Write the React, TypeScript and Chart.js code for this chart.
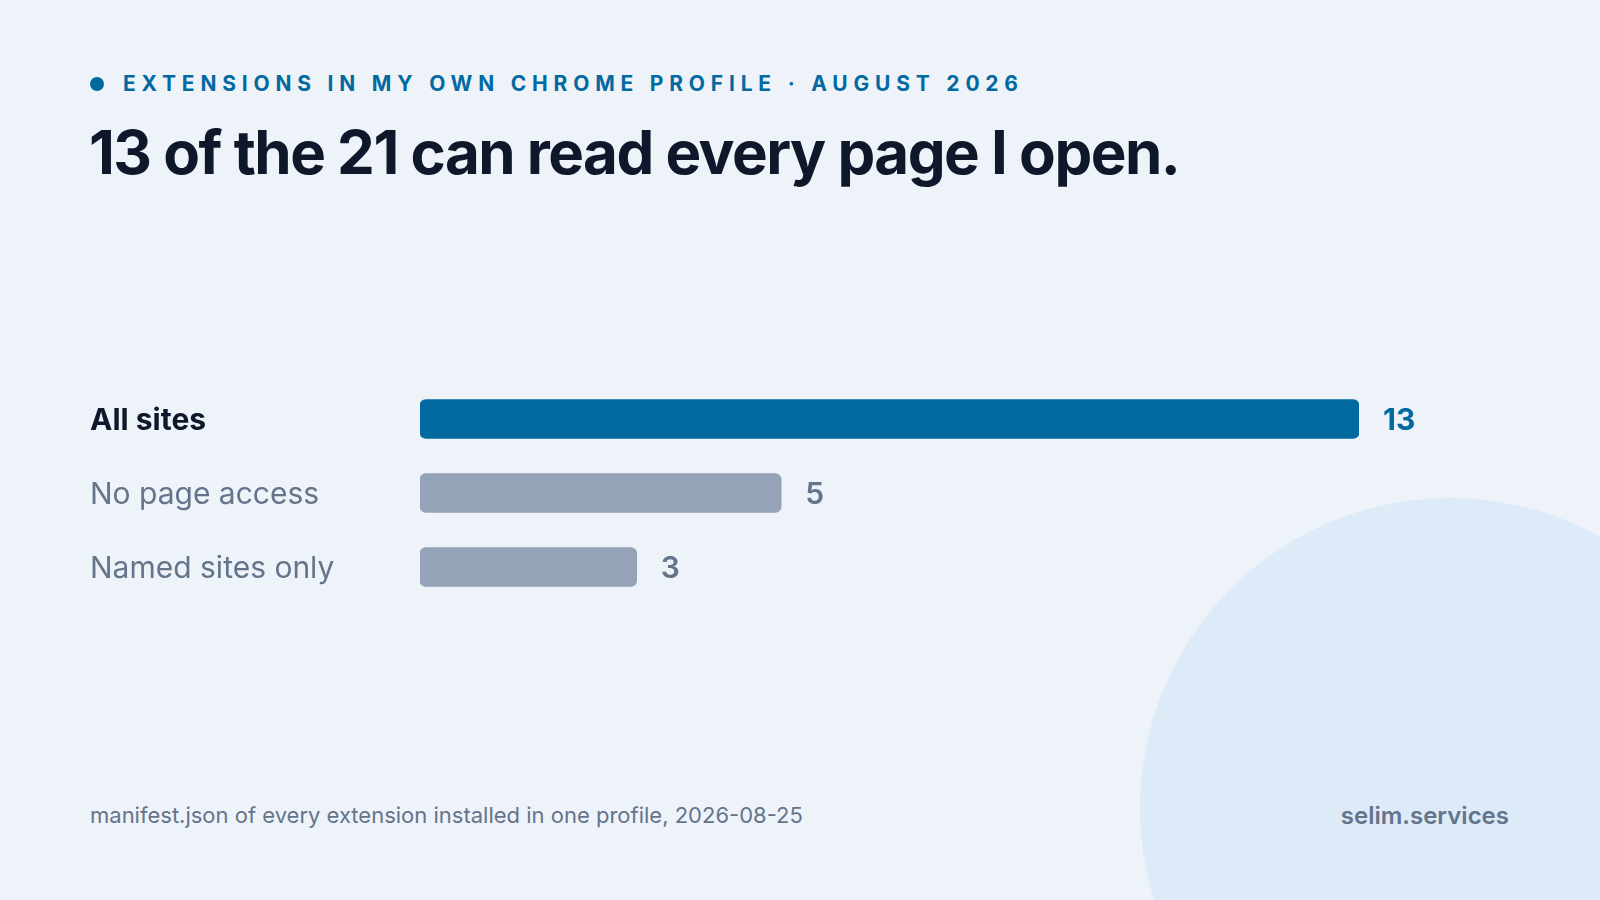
import { useEffect, useRef } from 'react'
import { Chart, registerables } from 'chart.js'

Chart.register(...registerables)

const categories = ['All sites', 'No page access', 'Named sites only']
const extensionCounts = [13, 5, 3]
const highlightIndex = 0

const BLUE = '#0369a1'
const SLATE = '#94a3b8'
const MUTED = '#64748b'
const INK = '#0f172a'

// draws the count just past the end of every bar
const valueLabels = {
  id: 'valueLabels',
  afterDatasetsDraw(chart: Chart) {
    const { ctx } = chart
    const meta = chart.getDatasetMeta(0)
    ctx.save()
    ctx.textBaseline = 'middle'
    ctx.textAlign = 'left'
    meta.data.forEach((bar: any, i: number) => {
      const hot = i === highlightIndex
      ctx.font = `${hot ? 700 : 600} 30px Inter`
      ctx.fillStyle = hot ? BLUE : MUTED
      ctx.fillText(String(extensionCounts[i]), bar.x + 24, bar.y + 2)
    })
    ctx.restore()
  }
}

function PermissionBars() {
  const canvasRef = useRef<HTMLCanvasElement>(null)
  const chartRef = useRef<Chart | null>(null)

  useEffect(() => {
    if (!canvasRef.current) return
    if (chartRef.current) chartRef.current.destroy()

    chartRef.current = new Chart(canvasRef.current, {
      type: 'bar',
      data: {
        labels: categories,
        datasets: [
          {
            data: extensionCounts,
            backgroundColor: categories.map((_, i) => (i === highlightIndex ? BLUE : SLATE)),
            borderRadius: 6,
            borderSkipped: false,
            barThickness: 39
          }
        ]
      },
      options: {
        indexAxis: 'y',
        animation: false,
        responsive: true,
        maintainAspectRatio: false,
        layout: { padding: { left: 0, right: 101, top: 0, bottom: 0 } },
        plugins: {
          legend: { display: false },
          tooltip: { enabled: false }
        },
        scales: {
          x: {
            display: false,
            min: 0,
            max: 13
          },
          y: {
            grid: { display: false },
            border: { display: false },
            afterFit(scale: any) {
              scale.width = 330
            },
            ticks: {
              crossAlign: 'far',
              padding: 0,
              labelOffset: 2,
              color: (c: any) => (c.index === highlightIndex ? INK : MUTED),
              font: (c: any) => ({
                family: 'Inter',
                size: 30,
                weight: c.index === highlightIndex ? 700 : 400
              })
            }
          }
        }
      },
      plugins: [valueLabels]
    })

    return () => {
      if (chartRef.current) {
        chartRef.current.destroy()
        chartRef.current = null
      }
    }
  }, [])

  return <canvas ref={canvasRef} />
}

export default function App() {
  return (
    <div
      style={{
        position: 'relative',
        width: 1600,
        height: 900,
        overflow: 'hidden',
        background: '#eef3f9',
        fontFamily: 'Inter, sans-serif'
      }}
    >
      <style>{'body{margin:0}'}</style>
      <div
        style={{
          position: 'absolute',
          left: 1140,
          top: 498,
          width: 620,
          height: 620,
          borderRadius: '50%',
          background: '#ddebf8'
        }}
      />
      <div
        style={{
          position: 'absolute',
          left: 90,
          top: 73,
          display: 'flex',
          alignItems: 'center',
          color: BLUE,
          fontSize: 21,
          fontWeight: 700,
          letterSpacing: '5.8px',
          lineHeight: 1
        }}
      >
        <span
          style={{
            display: 'inline-block',
            width: 14,
            height: 14,
            borderRadius: '50%',
            background: BLUE,
            marginRight: 19
          }}
        />
        EXTENSIONS IN MY OWN CHROME PROFILE · AUGUST 2026
      </div>
      <div
        style={{
          position: 'absolute',
          left: 89,
          top: 122,
          color: INK,
          fontSize: 60,
          fontWeight: 700,
          letterSpacing: '-0.025em',
          lineHeight: 1
        }}
      >
        13 of the 21 can read every page I open.
      </div>
      <div style={{ position: 'absolute', left: 90, top: 364, width: 1370, height: 258 }}>
        <PermissionBars />
      </div>
      <div
        style={{
          position: 'absolute',
          left: 90,
          top: 804,
          color: MUTED,
          fontSize: 22,
          lineHeight: 1
        }}
      >
        manifest.json of every extension installed in one profile, 2026-08-25
      </div>
      <div
        style={{
          position: 'absolute',
          right: 91,
          top: 804,
          color: MUTED,
          fontSize: 24,
          fontWeight: 600,
          lineHeight: 1
        }}
      >
        selim.services
      </div>
    </div>
  )
}
